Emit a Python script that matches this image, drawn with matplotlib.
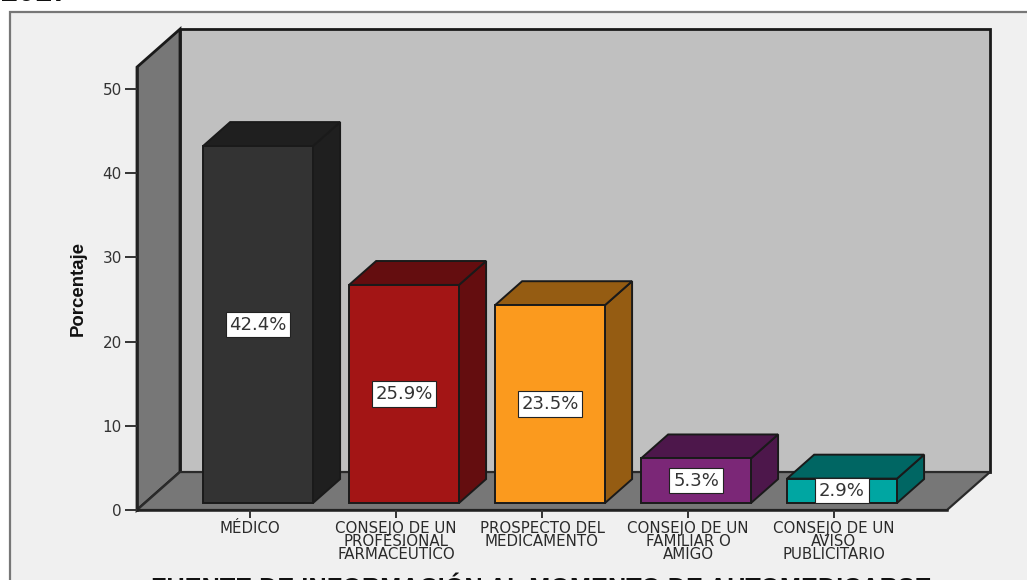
import matplotlib
matplotlib.use("Agg")
import matplotlib.pyplot as plt
from matplotlib.patches import Polygon, Rectangle

# values
categories = [
    "MÉDICO",
    "CONSEJO DE UN\nPROFESIONAL\nFARMACÉUTICO",
    "PROSPECTO DEL\nMEDICAMENTO",
    "CONSEJO DE UN\nFAMILIAR O\nAMIGO",
    "CONSEJO DE UN\nAVISO\nPUBLICITARIO",
]
percent = [42.4, 25.9, 23.5, 5.3, 2.9]
front_colors = ["#333333", "#a31515", "#fb9a1e", "#7b2777", "#00a6a2"]
top_colors = ["#1f1f1f", "#640d0f", "#955c12", "#4d174b", "#006663"]
y_ticks = [0, 10, 20, 30, 40, 50]

W, H = 1027, 580
EDGE = "#1a1a1a"

# fake 3D offsets, in data units
DEPTH_X, DEPTH_Y = 0.2945, 4.51
BAR_W = 0.753
BAR_DX, BAR_DY = 0.055, 0.83
BAR_DEPTH = 0.63
YMAX = 52.6
XMIN, XMAX = -0.774, 4.774


def add_poly(ax, pts, color, z, lw=1.4, ec=EDGE):
    ax.add_patch(Polygon(pts, closed=True, facecolor=color, edgecolor=ec,
                         linewidth=lw, clip_on=False, zorder=z, joinstyle="miter"))


def draw_box(ax, x, value, front, top, z):
    x0 = x - BAR_W / 2 + BAR_DX
    x1 = x0 + BAR_W
    y0 = BAR_DY
    y1 = BAR_DY + value
    dx = DEPTH_X * BAR_DEPTH
    dy = DEPTH_Y * BAR_DEPTH
    add_poly(ax, [(x1, y0), (x1 + dx, y0 + dy), (x1 + dx, y1 + dy), (x1, y1)], top, z)
    add_poly(ax, [(x0, y1), (x1, y1), (x1 + dx, y1 + dy), (x0 + dx, y1 + dy)], top, z)
    add_poly(ax, [(x0, y0), (x1, y0), (x1, y1), (x0, y1)], front, z + 0.1)
    ax.text((x0 + x1) / 2, (y0 + y1) / 2, f"{value:.1f}%", ha="center", va="center",
            fontsize=13, color="#333333", family="DejaVu Sans", zorder=z + 0.2,
            bbox=dict(boxstyle="square,pad=0.2", facecolor="white", edgecolor="#222222", linewidth=0.8))


plt.rcParams["font.family"] = ["Liberation Sans", "DejaVu Sans"]
fig = plt.figure(figsize=(W / 100, H / 100), dpi=100, facecolor="white")

# the grey panel behind the chart
fig.add_artist(Rectangle((10 / W, -0.02), 1.02, 1.02 - 12 / H, transform=fig.transFigure,
                         facecolor="#f0f0f0", edgecolor="#777777", linewidth=1.6, zorder=-5))

ax = fig.add_axes([137 / W, (H - 510) / H, (947 - 137) / W, 442.9 / H])
ax.set_xlim(XMIN, XMAX)
ax.set_ylim(0, YMAX)
ax.patch.set_visible(False)

# walls and floor
add_poly(ax, [(XMIN + DEPTH_X, DEPTH_Y), (XMAX + DEPTH_X, DEPTH_Y),
              (XMAX + DEPTH_X, YMAX + DEPTH_Y), (XMIN + DEPTH_X, YMAX + DEPTH_Y)], "#c0c0c0", 1, lw=2)
add_poly(ax, [(XMIN, 0), (XMIN + DEPTH_X, DEPTH_Y), (XMIN + DEPTH_X, YMAX + DEPTH_Y), (XMIN, YMAX)],
         "#777777", 1.1, lw=2)
add_poly(ax, [(XMIN, 0), (XMAX, 0), (XMAX + DEPTH_X, DEPTH_Y), (XMIN + DEPTH_X, DEPTH_Y)],
         "#777777", 1.2, lw=1.6, ec="#2a2a2a")

for i, (val, front, top) in enumerate(zip(percent, front_colors, top_colors)):
    draw_box(ax, i, val, front, top, 2 + i)

ax.set_xticks(range(len(categories)))
ax.set_xticklabels(categories, fontsize=10.8, color="#2a2a2a", family="DejaVu Sans", linespacing=0.83)
ax.set_yticks(y_ticks)
ax.tick_params(axis="x", length=6, width=1.4, color="#333333", pad=2)
ax.tick_params(axis="y", length=9, width=1.4, color="#333333", pad=2, labelsize=11, labelcolor="#333333")
for lab in ax.get_yticklabels():
    lab.set_family("DejaVu Sans")
for name in ["top", "right"]:
    ax.spines[name].set_visible(False)
for name in ["left", "bottom"]:
    ax.spines[name].set_linewidth(1.8)
    ax.spines[name].set_color("#222222")
    ax.spines[name].set_zorder(1.5)

fig.text(78 / W, 1 - 288 / H, "Porcentaje", rotation=90, ha="center", va="center",
         fontsize=13.4, fontweight="bold", color="#111111")
fig.text(541 / W, 1 - 589 / H, "FUENTE DE INFORMACIÓN AL MOMENTO DE AUTOMEDICARSE", ha="center", va="center",
         fontsize=18.2, fontweight="bold", color="#111111")
fig.text(1 / W, 1 - 1 / H, "2017", ha="left", va="baseline", fontsize=22, fontweight="bold", color="#111111")

fig.savefig("out.png", dpi=100)
